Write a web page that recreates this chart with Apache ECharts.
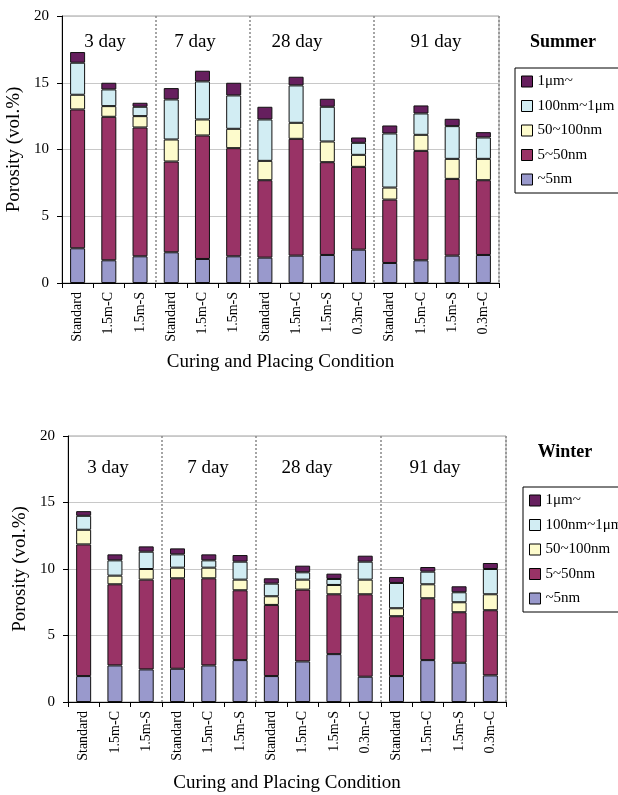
<!DOCTYPE html>
<html><head><meta charset="utf-8">
<script src="https://cdn.jsdelivr.net/npm/echarts@6/dist/echarts.min.js"></script>
<style>html,body{margin:0;padding:0;background:#fff}#c{width:618px;height:795px}</style>
</head><body><div id="c"></div>
<script>
const categories = ['Standard','1.5m-C','1.5m-S','Standard','1.5m-C','1.5m-S','Standard','1.5m-C','1.5m-S','0.3m-C','Standard','1.5m-C','1.5m-S','0.3m-C'];
const seriesNames = ['~5nm','5~50nm','50~100nm','100nm~1μm','1μm~'];
const legendOrder = ['1μm~','100nm~1μm','50~100nm','5~50nm','~5nm'];
const dayLabels = ['3 day','7 day','28 day','91 day'];
const groupBoundaries = [3,6,10];
const yTicks = [0,5,10,15,20];

// Summer (vol.%)
const summer5 = [2.6,1.7,2.0,2.3,1.8,2.0,1.9,2.05,2.1,2.5,1.5,1.7,2.05,2.1];
const summer50 = [10.4,10.75,9.65,6.8,9.25,8.1,5.8,8.75,6.95,6.2,4.75,8.2,5.75,5.6];
const summer100 = [1.1,0.8,0.85,1.65,1.2,1.45,1.45,1.2,1.55,0.9,0.9,1.2,1.5,1.6];
const summer1um = [2.4,1.25,0.7,3.0,2.85,2.5,3.1,2.8,2.6,0.9,4.05,1.6,2.45,1.6];
const summerBig = [0.8,0.5,0.3,0.85,0.8,0.95,0.95,0.65,0.6,0.4,0.6,0.6,0.55,0.4];

// Winter (vol.%)
const winter5 = [1.95,2.75,2.45,2.5,2.75,3.15,1.95,3.05,3.6,1.9,1.95,3.15,2.95,2.0];
const winter50 = [9.9,6.1,6.75,6.8,6.55,5.25,5.35,5.4,4.5,6.2,4.5,4.65,3.8,4.9];
const winter100 = [1.1,0.65,0.8,0.8,0.8,0.8,0.65,0.75,0.7,1.1,0.6,1.05,0.75,1.2];
const winter1um = [1.05,1.15,1.3,1.0,0.55,1.35,0.95,0.55,0.45,1.35,1.9,0.95,0.75,1.9];
const winterBig = [0.35,0.45,0.4,0.45,0.45,0.5,0.4,0.5,0.4,0.45,0.45,0.35,0.45,0.45];

const colors = ['#9999cc','#993366','#fdfbcc','#d2edf3','#661f5e'];
const FONT = 'Liberation Serif';

const chart = echarts.init(document.getElementById('c'), null, {renderer:'canvas'});

function xAxis(gi, gap){
  return {
    type:'category', gridIndex:gi, data:categories, boundaryGap:true,
    axisLine:{lineStyle:{color:'#000',width:1}},
    axisTick:{show:true, interval:0, length:5, lineStyle:{color:'#000'}},
    axisLabel:{interval:0, rotate:90, fontFamily:FONT, fontSize:14, color:'#000', margin:9},
    splitLine:{show:true, interval:function(i){return groupBoundaries.indexOf(i)>=0;}, lineStyle:{color:'#888', type:[2,2], width:1.5}},
    name:'Curing and Placing Condition', nameLocation:'middle', nameGap:gap,
    nameTextStyle:{fontFamily:FONT, fontSize:19, color:'#000'}
  };
}
function yAxis(gi){
  return {
    type:'value', gridIndex:gi, min:yTicks[0], max:yTicks[yTicks.length-1], interval:5,
    axisLine:{show:true, lineStyle:{color:'#000'}},
    axisTick:{show:true, length:5, lineStyle:{color:'#000'}},
    axisLabel:{fontFamily:FONT, fontSize:15, color:'#000', margin:13},
    splitLine:{show:true, lineStyle:{color:'#c8c8c8', width:1}},
    name:'Porosity (vol.%)', nameLocation:'middle', nameGap:37,
    nameTextStyle:{fontFamily:FONT, fontSize:19, color:'#000'}
  };
}
function series(gi, arrs){
  return arrs.map((d,k)=>({
    name:seriesNames[k], type:'bar', stack:'s'+gi, xAxisIndex:gi, yAxisIndex:gi,
    data:d, barWidth:15,
    itemStyle:{color:colors[k], borderColor:'#111', borderWidth:1},
    emphasis:{disabled:true}
  }));
}
function legend(top, left){
  return {
    orient:'vertical', left:left, top:top, data:legendOrder,
    icon:'rect', itemWidth:11, itemHeight:11, itemGap:9.5,
    padding:[6,8,6,6], borderColor:'#000', borderWidth:1, backgroundColor:'#fff',
    textStyle:{fontFamily:FONT, fontSize:15, color:'#000'},
    selectedMode:false,
    itemStyle:{borderColor:'#000', borderWidth:1}
  };
}
const dayPosTop = [105,195,297,436];
const dayPosBot = [108,208,307,435];
const graphics = [];
dayLabels.forEach((t,i)=>{
  graphics.push({type:'text', x:dayPosTop[i], y:42, style:{text:t, fill:'#000', font:'19px "'+FONT+'"', align:'center', verticalAlign:'middle'}});
  graphics.push({type:'text', x:dayPosBot[i], y:468, style:{text:t, fill:'#000', font:'19px "'+FONT+'"', align:'center', verticalAlign:'middle'}});
});
graphics.push({type:'text', x:563, y:42, style:{text:'Summer', fill:'#000', font:'bold 18px "'+FONT+'"', align:'center', verticalAlign:'middle'}});
graphics.push({type:'text', x:565, y:452, style:{text:'Winter', fill:'#000', font:'bold 18px "'+FONT+'"', align:'center', verticalAlign:'middle'}});

chart.setOption({
  animation:false,
  backgroundColor:'#fff',
  grid:[
    {left:62, top:16, width:437, height:267, show:true, borderColor:'#a0a0a0', borderWidth:1, containLabel:false, outerBoundsMode:'none'},
    {left:68, top:436, width:438, height:266, show:true, borderColor:'#a0a0a0', borderWidth:1, containLabel:false, outerBoundsMode:'none'}
  ],
  xAxis:[xAxis(0,70), xAxis(1,72)],
  yAxis:[yAxis(0), yAxis(1)],
  legend:[legend(68,515), legend(487,523)],
  series:[].concat(
    series(0,[summer5,summer50,summer100,summer1um,summerBig]),
    series(1,[winter5,winter50,winter100,winter1um,winterBig])
  ),
  graphic:graphics
});
</script></body></html>
